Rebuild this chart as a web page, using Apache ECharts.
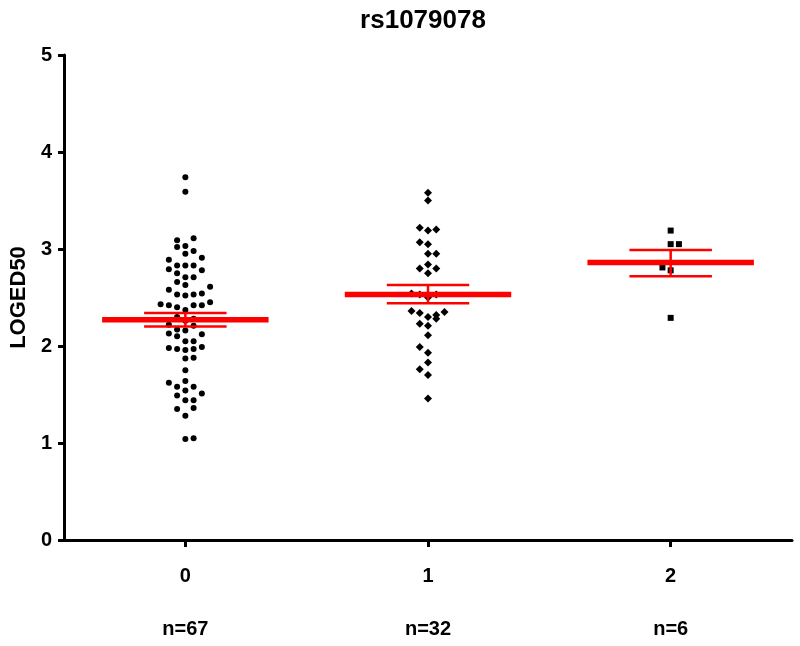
<!DOCTYPE html>
<html>
<head>
<meta charset="utf-8">
<script src="https://cdn.jsdelivr.net/npm/echarts@6/dist/echarts.min.js"></script>
<style>html,body{margin:0;padding:0;background:#fff}#c{width:800px;height:646px}</style>
</head>
<body>
<div id="c"></div>
<script>
// ---- data ----
const title = 'rs1079078';
const yName = 'LOGED50';
const categories = ['0', '1', '2'];
const nLabels = ['n=67', 'n=32', 'n=6'];
const yTicks = [0, 1, 2, 3, 4, 5];
// [horizontal swarm slot, LOGED50]
const group0 = [
  [0,3.74],[0,3.59],
  [-1,3.09],[1,3.11],[-1,3.02],[0,3.03],[0,2.95],[1,2.98],[2,2.91],[-2,2.89],
  [-2,2.79],[-1,2.83],[0,2.83],[1,2.83],[2,2.78],[-1,2.75],[0,2.71],[1,2.71],
  [-1,2.66],[0,2.63],[-2,2.58],[3,2.61],[-1,2.53],[0,2.52],[1,2.53],[2,2.54],
  [-3,2.43],[-2,2.42],[-1,2.40],[1,2.42],[2,2.42],[3,2.45],[0,2.37],
  [-1,2.30],[0,2.26],[1,2.28],[-2,2.22],[1,2.21],[-1,2.17],[0,2.16],[-2,2.13],[-1,2.10],[2,2.12],
  [0,2.05],[1,2.05],[-2,1.98],[-1,1.97],[0,1.96],[1,1.97],[2,1.99],[0,1.87],[1,1.88],
  [0,1.75],[0,1.64],[-2,1.62],[-1,1.58],[1,1.58],[0,1.54],[2,1.51],[-1,1.49],[0,1.44],[1,1.44],
  [-1,1.35],[1,1.36],[0,1.28],[0,1.04],[1,1.05]
];
const group1 = [
  [0,3.58],[0,3.50],[-1,3.22],[0,3.19],[1,3.20],[-1,3.07],[0,3.05],[0,2.95],[1,2.95],
  [0,2.84],[-1,2.80],[1,2.80],[0,2.75],[-2,2.54],[-1,2.53],[0,2.50],[1,2.53],
  [-2,2.36],[-1,2.34],[0,2.30],[1,2.32],[1,2.28],[2,2.35],[-1,2.23],[0,2.21],[0,2.11],
  [-1,1.99],[0,1.93],[0,1.83],[-1,1.76],[0,1.70],[0,1.46]
];
const group2 = [[0,3.19],[0,3.05],[1,3.05],[-1,2.81],[0,2.78],[0,2.29]];
const means = [2.27, 2.53, 2.86];
const semLow = [2.20, 2.44, 2.72];
const semHigh = [2.34, 2.63, 2.99];

// ---- style ----
const SLOT = 0.034;      // swarm slot width in category units
const MEAN_HALF = 0.343;
const CAP_HALF = 0.17;
const FONT = '"Liberation Sans", Arial, sans-serif';
const RED = '#ff0000';

function swarm(group, idx) {
  return group.map(p => [idx + p[0] * SLOT, p[1]]);
}
const groups = [group0, group1, group2];
const symbols = ['circle', 'diamond', 'rect'];
const sizes = [6, 8, 6];

const chart = echarts.init(document.getElementById('c'), null, {renderer: 'canvas'});
const option = {
  animation: false,
  backgroundColor: '#fff',
  title: {
    text: title, left: 418, top: 3, textAlign: 'center',
    textStyle: {fontFamily: FONT, fontWeight: 'bold', fontSize: 26, color: '#000'}
  },
  grid: {left: 61, right: 8, top: 55, bottom: 106},
  xAxis: [
    {
      type: 'category', data: categories, position: 'bottom',
      axisLine: {show: true, onZero: false, lineStyle: {color: '#000', width: 3}},
      axisTick: {show: true, alignWithLabel: true, length: 7, lineStyle: {color: '#000', width: 3}},
      axisLabel: {margin: 26, fontFamily: FONT, fontWeight: 'bold', fontSize: 20, color: '#000'},
      splitLine: {show: false}
    },
    {
      type: 'category', data: nLabels, position: 'bottom',
      axisLine: {show: false, onZero: false}, axisTick: {show: false},
      axisLabel: {margin: 79, fontFamily: FONT, fontWeight: 'bold', fontSize: 20, color: '#000'},
      splitLine: {show: false}
    },
    {
      type: 'value', min: -0.5, max: 2.5, show: false, position: 'bottom',
      axisLine: {onZero: false}
    }
  ],
  yAxis: {
    type: 'value', min: yTicks[0], max: yTicks[yTicks.length - 1], interval: 1,
    name: yName, nameLocation: 'middle', nameGap: 34, nameRotate: 90,
    nameTextStyle: {fontFamily: FONT, fontWeight: 'bold', fontSize: 22, color: '#000'},
    axisLine: {show: true, onZero: false, lineStyle: {color: '#000', width: 3}},
    axisTick: {show: true, length: 6, lineStyle: {color: '#000', width: 3}},
    axisLabel: {margin: 12, fontFamily: FONT, fontWeight: 'bold', fontSize: 20, color: '#000'},
    splitLine: {show: false}
  },
  series: [
    ...groups.map((g, i) => ({
      type: 'scatter', xAxisIndex: 2, data: swarm(g, i),
      symbol: symbols[i], symbolSize: sizes[i],
      itemStyle: {color: '#000', opacity: 1}, z: 2
    })),
    {
      type: 'custom', xAxisIndex: 2, z: 3,
      data: means.map((m, i) => [i, m, semLow[i], semHigh[i]]),
      renderItem: function (params, api) {
        const x = api.value(0), m = api.value(1), lo = api.value(2), hi = api.value(3);
        const a = api.coord([x - MEAN_HALF, m]), b = api.coord([x + MEAN_HALF, m]);
        const c1 = api.coord([x - CAP_HALF, hi]), c2 = api.coord([x + CAP_HALF, hi]);
        const d1 = api.coord([x - CAP_HALF, lo]), d2 = api.coord([x + CAP_HALF, lo]);
        const v1 = api.coord([x, hi]), v2 = api.coord([x, lo]);
        const thin = {stroke: RED, lineWidth: 2.5};
        return {
          type: 'group',
          children: [
            {type: 'line', shape: {x1: v1[0], y1: v1[1], x2: v2[0], y2: v2[1]}, style: thin},
            {type: 'line', shape: {x1: c1[0], y1: c1[1], x2: c2[0], y2: c2[1]}, style: thin},
            {type: 'line', shape: {x1: d1[0], y1: d1[1], x2: d2[0], y2: d2[1]}, style: thin},
            {type: 'line', shape: {x1: a[0], y1: a[1], x2: b[0], y2: b[1]}, style: {stroke: RED, lineWidth: 5.5}}
          ]
        };
      }
    }
  ]
};
chart.setOption(option);
</script>
</body>
</html>
